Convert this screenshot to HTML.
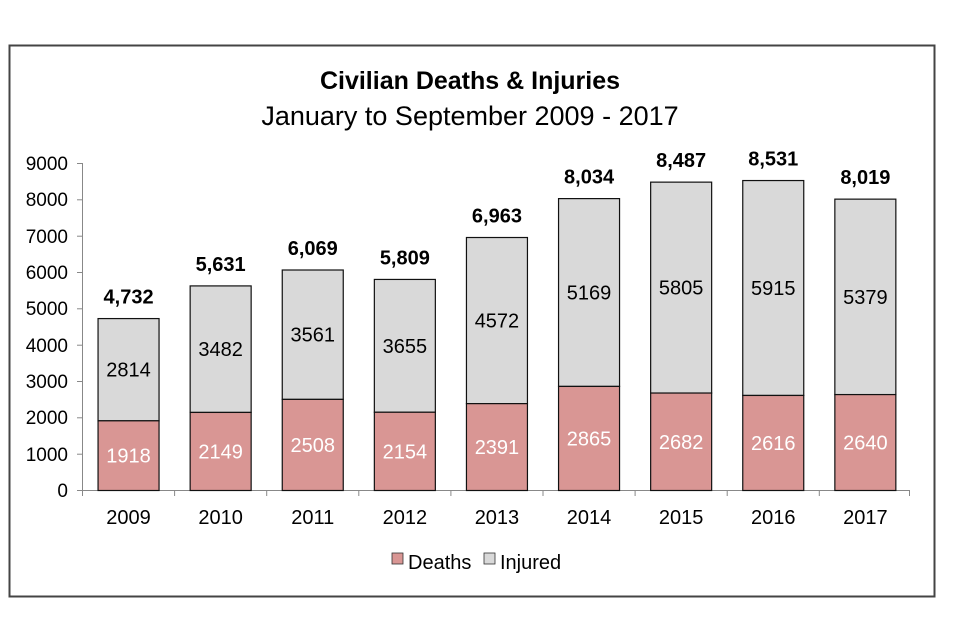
<!DOCTYPE html>
<html><head><style>
body{margin:0;background:#fff;}
svg{display:block;font-family:"Liberation Sans",Arial,sans-serif;}
</style></head><body>
<svg width="960" height="640" viewBox="0 0 960 640" xmlns="http://www.w3.org/2000/svg">
<rect x="0" y="0" width="960" height="640" fill="#fff"/>
<rect x="9.5" y="45.5" width="925" height="551" fill="#fff" stroke="#444" stroke-width="2"/>
<text x="470" y="89" text-anchor="middle" font-size="25" font-weight="bold">Civilian Deaths &amp; Injuries</text>
<text x="470" y="125" text-anchor="middle" font-size="27">January to September 2009 - 2017</text>
<g font-size="19" text-anchor="end" fill="#000">
<text x="68" y="497">0</text><text x="68" y="461">1000</text><text x="68" y="424">2000</text>
<text x="68" y="388">3000</text><text x="68" y="352">4000</text><text x="68" y="315">5000</text>
<text x="68" y="279">6000</text><text x="68" y="243">7000</text><text x="68" y="206">8000</text>
<text x="68" y="170">9000</text>
</g>
<g stroke="#888" stroke-width="1">
<line x1="82.5" y1="163" x2="82.5" y2="491"/>
<line x1="82" y1="490.5" x2="910" y2="490.5"/>
<line x1="77" x2="82.5" y1="490.5" y2="490.5"/><line x1="77" x2="82.5" y1="454.2" y2="454.2"/>
<line x1="77" x2="82.5" y1="417.8" y2="417.8"/><line x1="77" x2="82.5" y1="381.5" y2="381.5"/>
<line x1="77" x2="82.5" y1="345.2" y2="345.2"/><line x1="77" x2="82.5" y1="308.8" y2="308.8"/>
<line x1="77" x2="82.5" y1="272.5" y2="272.5"/><line x1="77" x2="82.5" y1="236.2" y2="236.2"/>
<line x1="77" x2="82.5" y1="199.8" y2="199.8"/><line x1="77" x2="82.5" y1="163.5" y2="163.5"/>
<line x1="82.5" x2="82.5" y1="490.5" y2="496"/><line x1="174.6" x2="174.6" y1="490.5" y2="496"/>
<line x1="266.7" x2="266.7" y1="490.5" y2="496"/><line x1="358.8" x2="358.8" y1="490.5" y2="496"/>
<line x1="450.9" x2="450.9" y1="490.5" y2="496"/><line x1="543" x2="543" y1="490.5" y2="496"/>
<line x1="635.1" x2="635.1" y1="490.5" y2="496"/><line x1="727.2" x2="727.2" y1="490.5" y2="496"/>
<line x1="819.3" x2="819.3" y1="490.5" y2="496"/><line x1="909.5" x2="909.5" y1="490.5" y2="496"/>
</g>
<g stroke="#111" stroke-width="1.2">
<rect x="98.05" y="318.57" width="61" height="102.24" fill="#d9d9d9"/><rect x="98.05" y="420.81" width="61" height="69.69" fill="#d99694"/>
<rect x="190.15" y="285.91" width="61" height="126.51" fill="#d9d9d9"/><rect x="190.15" y="412.42" width="61" height="78.08" fill="#d99694"/>
<rect x="282.25" y="270.0" width="61" height="129.38" fill="#d9d9d9"/><rect x="282.25" y="399.38" width="61" height="91.12" fill="#d99694"/>
<rect x="374.35" y="279.44" width="61" height="132.8" fill="#d9d9d9"/><rect x="374.35" y="412.24" width="61" height="78.26" fill="#d99694"/>
<rect x="466.45" y="237.51" width="61" height="166.12" fill="#d9d9d9"/><rect x="466.45" y="403.63" width="61" height="86.87" fill="#d99694"/>
<rect x="558.55" y="198.6" width="61" height="187.81" fill="#d9d9d9"/><rect x="558.55" y="386.41" width="61" height="104.09" fill="#d99694"/>
<rect x="650.65" y="182.14" width="61" height="210.91" fill="#d9d9d9"/><rect x="650.65" y="393.05" width="61" height="97.45" fill="#d99694"/>
<rect x="742.75" y="180.54" width="61" height="214.91" fill="#d9d9d9"/><rect x="742.75" y="395.45" width="61" height="95.05" fill="#d99694"/>
<rect x="834.85" y="199.14" width="61" height="195.44" fill="#d9d9d9"/><rect x="834.85" y="394.58" width="61" height="95.92" fill="#d99694"/>
</g>
<g font-size="20" text-anchor="middle" fill="#fff">
<text x="128.55" y="462.7">1918</text><text x="220.65" y="458.5">2149</text><text x="312.75" y="452">2508</text>
<text x="404.85" y="458.4">2154</text><text x="496.95" y="454.1">2391</text><text x="589.05" y="445.5">2865</text>
<text x="681.15" y="448.8">2682</text><text x="773.25" y="450">2616</text><text x="865.35" y="449.5">2640</text>
</g>
<g font-size="20" text-anchor="middle" fill="#000">
<text x="128.55" y="376.7">2814</text><text x="220.65" y="356.2">3482</text><text x="312.75" y="341.7">3561</text>
<text x="404.85" y="352.8">3655</text><text x="496.95" y="327.6">4572</text><text x="589.05" y="299.5">5169</text>
<text x="681.15" y="294.6">5805</text><text x="773.25" y="295">5915</text><text x="865.35" y="303.9">5379</text>
</g>
<g font-size="20" text-anchor="middle" font-weight="bold" fill="#000">
<text x="128.55" y="303.6">4,732</text><text x="220.65" y="270.9">5,631</text><text x="312.75" y="255">6,069</text>
<text x="404.85" y="264.4">5,809</text><text x="496.95" y="222.5">6,963</text><text x="589.05" y="183.6">8,034</text>
<text x="681.15" y="167.1">8,487</text><text x="773.25" y="165.5">8,531</text><text x="865.35" y="184.1">8,019</text>
</g>
<g font-size="20" text-anchor="middle" fill="#000">
<text x="128.55" y="524">2009</text><text x="220.65" y="524">2010</text><text x="312.75" y="524">2011</text>
<text x="404.85" y="524">2012</text><text x="496.95" y="524">2013</text><text x="589.05" y="524">2014</text>
<text x="681.15" y="524">2015</text><text x="773.25" y="524">2016</text><text x="865.35" y="524">2017</text>
</g>
<g transform="translate(392,553)">
<rect x="0" y="0" width="11" height="11" fill="#d99694" stroke="#333" stroke-width="0.8"/>
<text x="16" y="16" font-size="20">Deaths</text>
<rect x="92" y="0" width="11" height="11" fill="#d9d9d9" stroke="#333" stroke-width="0.8"/>
<text x="108" y="16" font-size="20">Injured</text>
</g>
</svg>
</body></html>
